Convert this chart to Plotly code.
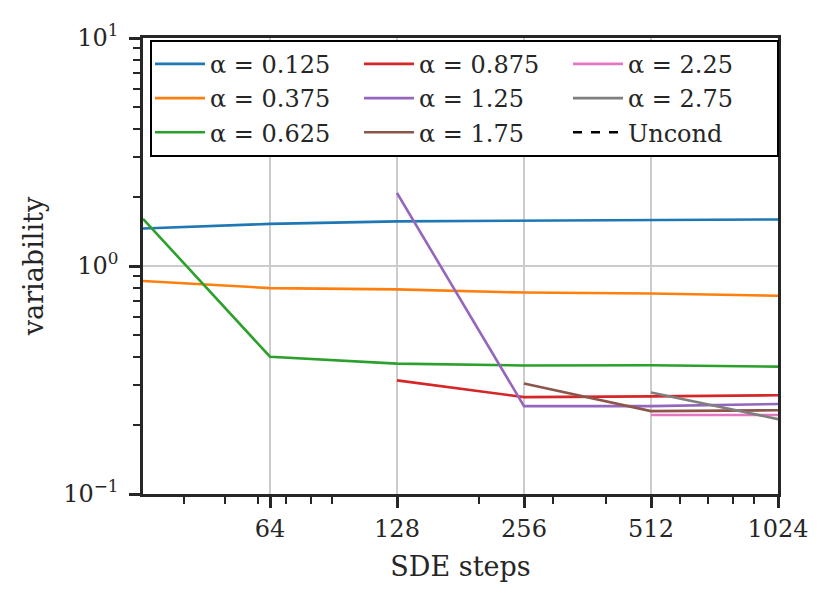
import plotly.graph_objects as go

# SDE steps
steps = [32, 64, 128, 256, 512, 1024]

alpha_labels = ["0.125", "0.375", "0.625", "0.875", "1.25", "1.75", "2.25", "2.75"]
colors = ["#1f77b4", "#ff7f0e", "#2ca02c", "#d62728", "#9467bd", "#8c564b", "#e377c2", "#7f7f7f"]

var_0125 = [1.46, 1.53, 1.57, 1.58, 1.58, 1.60]
var_0375 = [0.86, 0.80, 0.79, 0.765, 0.757, 0.74]
var_0625 = [1.61, 0.40, 0.373, 0.366, 0.367, 0.362]
var_0875 = [None, None, 0.315, 0.266, 0.268, 0.271]
var_125 = [None, None, 2.09, 0.243, 0.243, 0.248]
var_175 = [None, None, None, 0.305, 0.231, 0.233]
var_225 = [None, None, None, None, 0.222, 0.222]
var_275 = [None, None, None, None, 0.279, 0.213]
series = [var_0125, var_0375, var_0625, var_0875, var_125, var_175, var_225, var_275]

x_ticks = [64, 128, 256, 512, 1024]
x_minor = [40, 50, 60, 70, 80, 90, 200, 300, 400, 600, 700, 800, 900]
y_ticks = [0.1, 1, 10]
y_ticktext = ["10<sup>\u22121</sup>", "10<sup>0</sup>", "10<sup>1</sup>"]
y_minor = [m * 10 ** e for e in (-1, 0) for m in range(2, 10)]

font = "DejaVu Serif"
ink = "#262626"

fig = go.Figure()
for i, (lab, col, ys) in enumerate(zip(alpha_labels, colors, series)):
    fig.add_trace(go.Scatter(
        x=steps, y=ys, mode="lines", name="\u03b1 = " + lab,
        line=dict(color=col, width=2.6), legendgroup="c%d" % (i // 3),
    ))
fig.add_trace(go.Scatter(
    x=[None], y=[None], mode="lines", name="Uncond",
    line=dict(color="black", width=2.6, dash="dash"), legendgroup="c2",
))

axis_common = dict(
    type="log", showline=True, linecolor=ink, linewidth=2.5, mirror=True,
    ticks="outside", ticklen=11, tickwidth=2.5, tickcolor=ink,
    showgrid=True, gridcolor="#cccccc", gridwidth=2, zeroline=False,
    tickfont=dict(family=font, size=24, color=ink),
)

fig.update_layout(
    width=832, height=603,
    margin=dict(l=135, r=62, t=24, b=117),
    plot_bgcolor="white", paper_bgcolor="white",
    font=dict(family=font, color=ink),
    xaxis=dict(
        axis_common, range=[1.50515, 3.0103], tickvals=x_ticks,
        ticktext=[str(v) for v in x_ticks],
        title=dict(text="SDE steps", font=dict(family=font, size=27), standoff=16),
        minor=dict(tickvals=x_minor, ticks="outside", ticklen=7, tickwidth=2,
                   tickcolor=ink, showgrid=False),
    ),
    yaxis=dict(
        axis_common, range=[-1, 1], tickvals=y_ticks, ticktext=y_ticktext,
        ticklabelstandoff=6,
        title=dict(text="variability", font=dict(family=font, size=27), standoff=12),
        minor=dict(tickvals=y_minor, ticks="outside", ticklen=7, tickwidth=2,
                   tickcolor=ink, showgrid=False),
    ),
    legend=dict(
        x=0.011, y=0.996, xanchor="left", yanchor="top",
        orientation="h", traceorder="grouped", entrywidth=144, itemwidth=50,
        bordercolor="black", borderwidth=2, bgcolor="white",
        font=dict(family=font, size=24, color=ink), tracegroupgap=0,
    ),
)

fig.write_html("out.html")
